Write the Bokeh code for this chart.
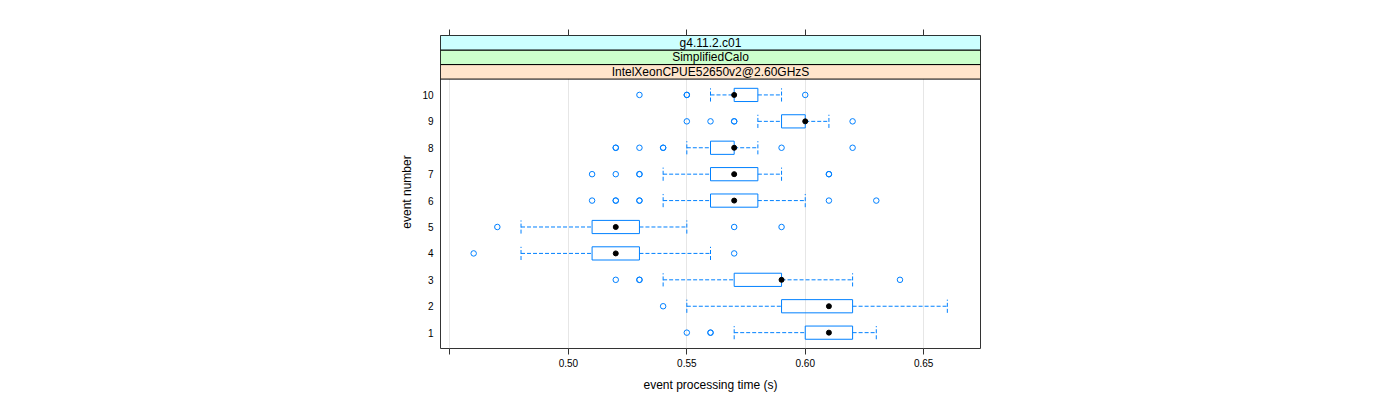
from bokeh.plotting import figure
from bokeh.models import FixedTicker, LinearAxis, Range1d, ColumnDataSource
from bokeh.core.properties import value
from bokeh.embed import file_html
from bokeh.resources import INLINE

# ---------------- data ----------------
events = [1, 2, 3, 4, 5, 6, 7, 8, 9, 10]
lower_whisker = [0.57, 0.55, 0.54, 0.48, 0.48, 0.54, 0.54, 0.55, 0.58, 0.56]
q1 = [0.60, 0.59, 0.57, 0.51, 0.51, 0.56, 0.56, 0.56, 0.59, 0.57]
median = [0.61, 0.61, 0.59, 0.52, 0.52, 0.57, 0.57, 0.57, 0.60, 0.57]
q3 = [0.62, 0.62, 0.59, 0.53, 0.53, 0.58, 0.58, 0.57, 0.60, 0.58]
upper_whisker = [0.63, 0.66, 0.62, 0.56, 0.55, 0.60, 0.59, 0.58, 0.61, 0.59]
outliers = [
    [0.55, 0.56, 0.56],
    [0.54],
    [0.52, 0.53, 0.53, 0.64],
    [0.46, 0.57],
    [0.47, 0.57, 0.59],
    [0.51, 0.52, 0.52, 0.53, 0.53, 0.61, 0.63],
    [0.51, 0.52, 0.53, 0.53, 0.61, 0.61],
    [0.52, 0.52, 0.53, 0.54, 0.54, 0.59, 0.62],
    [0.55, 0.56, 0.57, 0.57, 0.62],
    [0.53, 0.55, 0.55, 0.60],
]
strip_labels = ["IntelXeonCPUE52650v2@2.60GHzS", "SimplifiedCalo", "g4.11.2.c01"]
strip_colors = ["#ffe5cc", "#ccffcc", "#ccffff"]
x_ticks = [0.45, 0.50, 0.55, 0.60, 0.65]
x_tick_labels = ["", "0.50", "0.55", "0.60", "0.65"]
x_title = "event processing time (s)"
y_title = "event number"

# ---------------- layout constants ----------------
FONT = "Liberation Sans"
BLUE = "#0080ff"
X0, X1 = 0.446, 0.674
Y0, Y1 = 0.4, 10.6
STRIP_H = 0.55
BOX_H = 0.5
Y_TOP = Y1 + STRIP_H * len(strip_labels)

p = figure(
    frame_width=540, frame_height=313,
    x_range=Range1d(X0, X1), y_range=Range1d(Y0, Y_TOP),
    output_backend="svg", toolbar_location=None,
    min_border_left=440, min_border_right=412,
    min_border_top=35, min_border_bottom=44,
    background_fill_color="white", border_fill_color="white",
)
p.outline_line_color = "#333333"
p.outline_line_width = 1

# grid
p.xgrid.ticker = FixedTicker(ticks=x_ticks)
p.xgrid.grid_line_color = "#e6e6e6"
p.ygrid.visible = False

# bottom axis
xa = p.xaxis[0]
xa.ticker = FixedTicker(ticks=x_ticks)
xa.major_label_overrides = {t: l for t, l in zip(x_ticks, x_tick_labels)}
xa.minor_tick_line_color = None
xa.major_tick_in = 0
xa.major_tick_out = 6
xa.major_tick_line_color = "#333333"
xa.axis_line_color = None
xa.major_label_standoff = 4
xa.major_label_text_font = FONT
xa.major_label_text_font_size = "10px"
xa.major_label_text_color = "black"
xa.axis_label = x_title
xa.axis_label_text_font = FONT
xa.axis_label_text_font_size = "12px"
xa.axis_label_text_font_style = "normal"
xa.axis_label_text_color = "black"
xa.axis_label_standoff = 8

# left axis
ya = p.yaxis[0]
ya.ticker = FixedTicker(ticks=events)
ya.minor_tick_line_color = None
ya.major_tick_in = 0
ya.major_tick_out = 0
ya.axis_line_color = None
ya.major_label_standoff = 7
ya.major_label_text_font = FONT
ya.major_label_text_font_size = "10px"
ya.major_label_text_color = "black"
ya.axis_label = y_title
ya.axis_label_text_font = FONT
ya.axis_label_text_font_size = "12px"
ya.axis_label_text_font_style = "normal"
ya.axis_label_text_color = "black"
ya.axis_label_standoff = 5

# top axis: ticks only
top = LinearAxis(ticker=FixedTicker(ticks=x_ticks))
top.major_label_text_color = None
top.major_label_text_font_size = "10px"
top.minor_tick_line_color = None
top.major_tick_in = 0
top.major_tick_out = 6
top.major_tick_line_color = "#333333"
top.axis_line_color = None
p.add_layout(top, "above")

# ---------------- boxplots ----------------
src = ColumnDataSource(dict(
    y=events, lw=lower_whisker, q1=q1, med=median, q3=q3, uw=upper_whisker,
    yb=[e - BOX_H / 2 for e in events], yt=[e + BOX_H / 2 for e in events],
))
# whiskers
p.segment(x0="lw", y0="y", x1="q1", y1="y", source=src, line_color=BLUE,
          line_dash="4 2", line_width=1)
p.segment(x0="q3", y0="y", x1="uw", y1="y", source=src, line_color=BLUE,
          line_dash="4 2", line_width=1)
# caps
p.segment(x0="lw", y0="yb", x1="lw", y1="yt", source=src, line_color=BLUE,
          line_dash="4 2", line_width=1)
p.segment(x0="uw", y0="yb", x1="uw", y1="yt", source=src, line_color=BLUE,
          line_dash="4 2", line_width=1)
# boxes
p.quad(left="q1", right="q3", bottom="yb", top="yt", source=src,
       fill_color=None, line_color=BLUE, line_width=1)
# medians
p.scatter(x="med", y="y", source=src, size=5, marker="circle",
          fill_color="black", line_color="black")
# outliers
ox, oy = [], []
for e, vals in zip(events, outliers):
    for v in vals:
        ox.append(v)
        oy.append(e)
p.scatter(x=ox, y=oy, size=5.5, marker="circle", fill_color=None,
          line_color=BLUE, line_width=1)

# ---------------- strips ----------------
n = len(strip_labels)
strip_src = ColumnDataSource(dict(
    left=[X0] * n, right=[X1] * n,
    bottom=[Y1 + i * STRIP_H for i in range(n)],
    top=[Y1 + (i + 1) * STRIP_H for i in range(n)],
    mid=[Y1 + (i + 0.5) * STRIP_H for i in range(n)],
    cx=[(X0 + X1) / 2] * n,
    color=strip_colors, label=strip_labels,
))
p.quad(left="left", right="right", bottom="bottom", top="top", source=strip_src,
       fill_color="color", line_color="black", line_width=1)
p.text(x="cx", y="mid", text="label", source=strip_src, text_align="center",
       text_baseline="middle", text_font=value(FONT), text_font_size="12px",
       text_color="black")

open("out.html", "w").write(file_html(p, INLINE))
